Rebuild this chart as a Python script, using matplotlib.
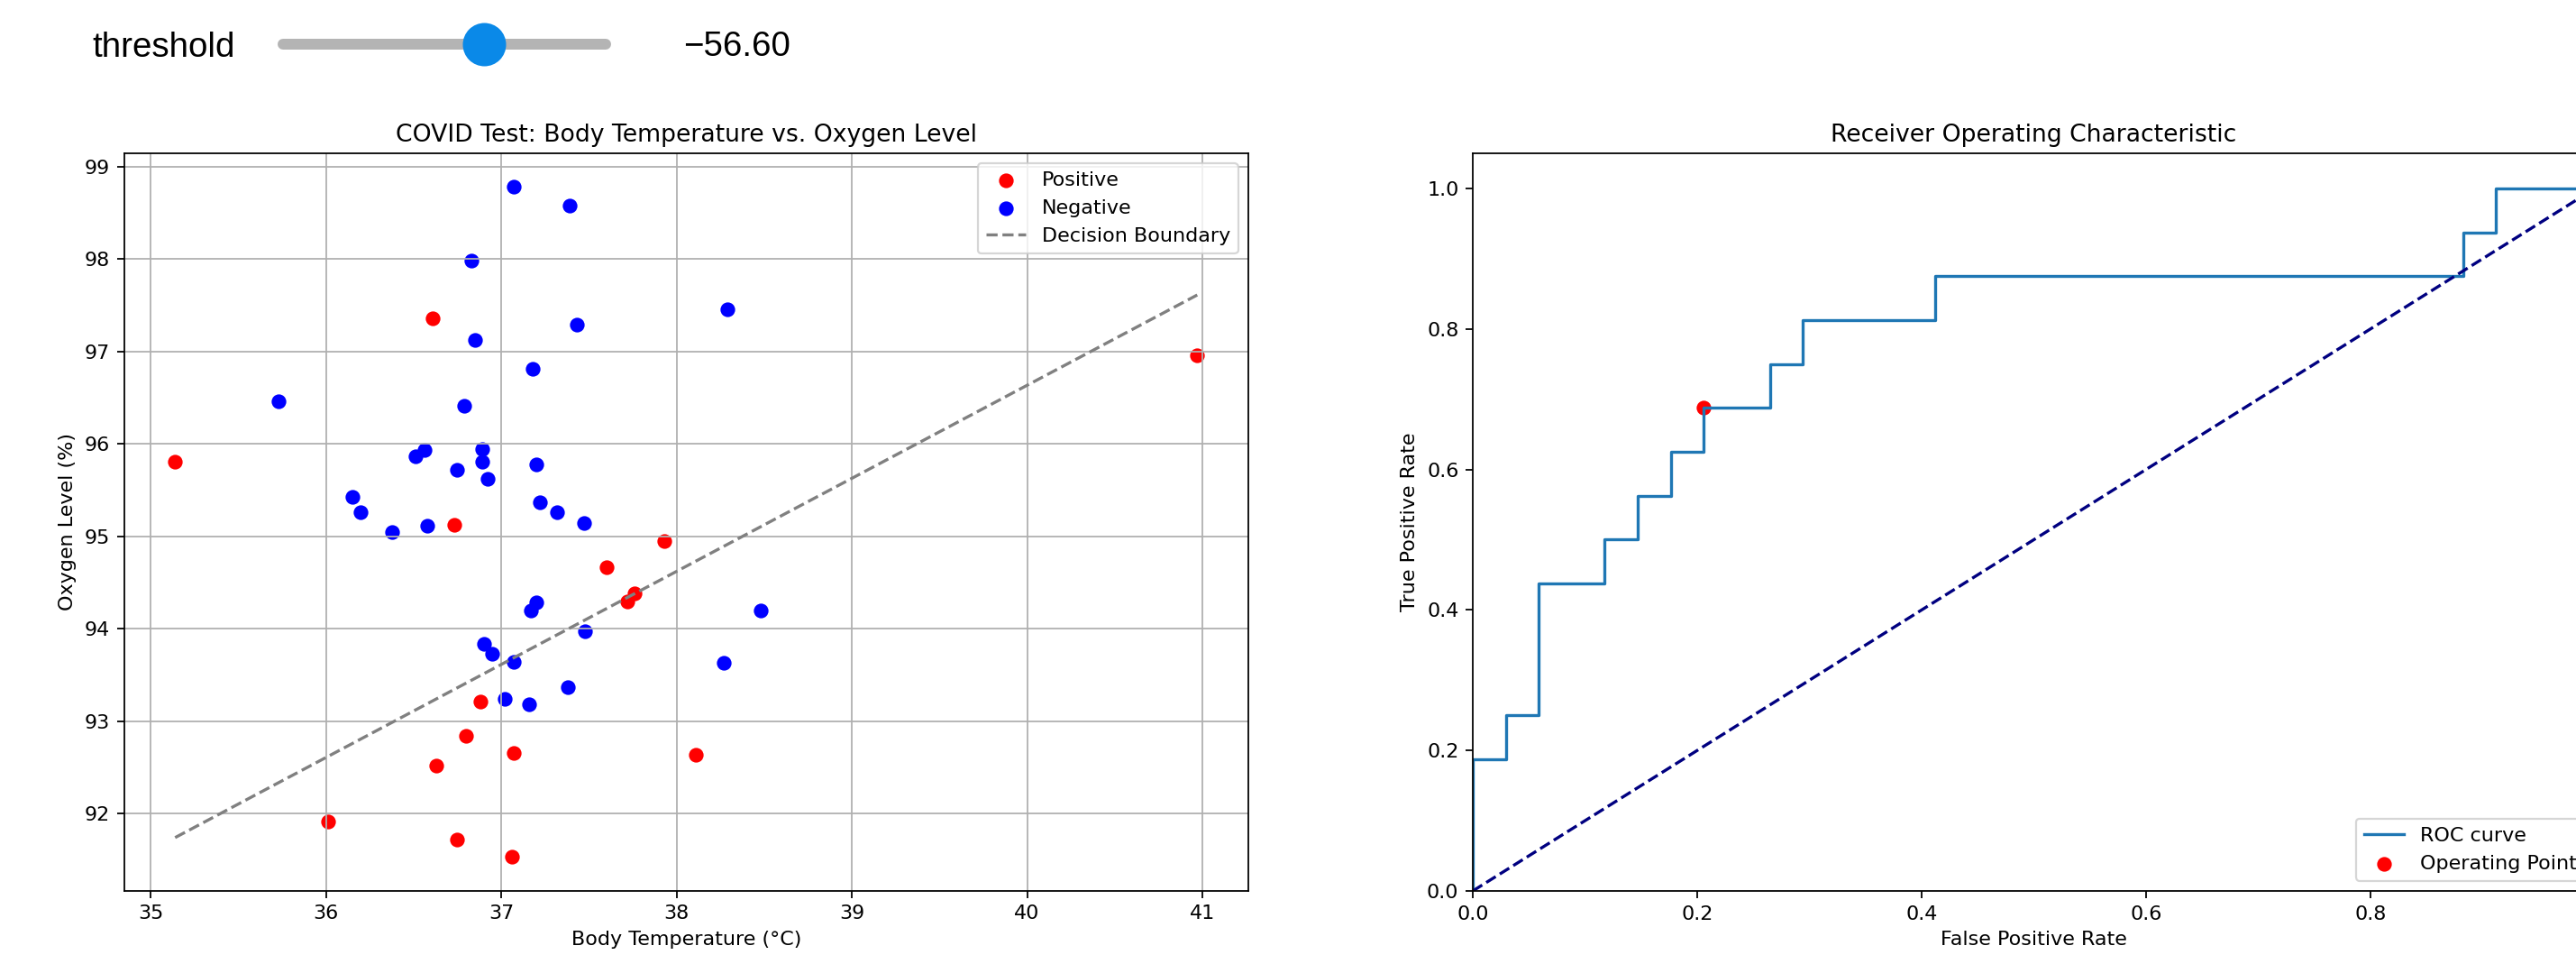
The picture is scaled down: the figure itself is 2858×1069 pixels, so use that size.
import matplotlib
matplotlib.use("Agg")
import matplotlib.pyplot as plt

# covid test points (body temp degC, oxygen %)
pos_temp = [35.14, 36.61, 36.73, 37.93, 37.60, 37.76, 37.72, 36.88, 36.80, 37.07,
            36.63, 38.11, 36.01, 36.75, 37.06, 40.97]
pos_oxy = [95.81, 97.36, 95.12, 94.95, 94.66, 94.38, 94.29, 93.21, 92.84, 92.66,
           92.52, 92.64, 91.91, 91.72, 91.53, 96.96]

neg_temp = [37.07, 37.39, 36.83, 37.43, 38.29, 36.85, 37.18, 35.73, 36.79, 36.56,
            36.51, 36.89, 36.89, 36.75, 36.92, 37.20, 36.15, 36.20, 36.38, 36.58,
            37.22, 37.32, 37.47, 37.20, 37.17, 37.48, 38.48, 38.27, 36.90, 36.95,
            37.07, 37.38, 37.02, 37.16]
neg_oxy = [98.78, 98.58, 97.98, 97.29, 97.45, 97.12, 96.81, 96.46, 96.41, 95.93,
           95.86, 95.94, 95.81, 95.72, 95.62, 95.78, 95.43, 95.26, 95.05, 95.11,
           95.37, 95.26, 95.14, 94.28, 94.20, 93.97, 94.20, 93.63, 93.84, 93.73,
           93.64, 93.37, 93.24, 93.18]

# decision boundary end points
boundary_temp = [35.14, 40.97]
boundary_oxy = [91.74, 97.61]

# roc curve (16 positives, 34 negatives)
fpr = [0, 0, 1/34, 1/34, 2/34, 2/34, 4/34, 4/34, 5/34, 5/34, 6/34, 6/34, 7/34, 7/34,
       9/34, 9/34, 10/34, 10/34, 14/34, 14/34, 30/34, 30/34, 31/34, 31/34, 1]
tpr = [0, 3/16, 3/16, 4/16, 4/16, 7/16, 7/16, 8/16, 8/16, 9/16, 9/16, 10/16, 10/16, 11/16,
       11/16, 12/16, 12/16, 13/16, 13/16, 14/16, 14/16, 15/16, 15/16, 1, 1]
op_fpr = 7/34
op_tpr = 11/16

# slider
threshold = -56.60
threshold_min = -150
threshold_max = 0

W, H, DPI = 2858, 1069, 160


def px(x0, y_top, x1, y_bottom):
    # pixel box -> figure fraction rect
    return [x0 / W, 1 - y_bottom / H, (x1 - x0) / W, (y_bottom - y_top) / H]


fig = plt.figure(figsize=(W / DPI, H / DPI), dpi=DPI)

# left: scatter
ax1 = fig.add_axes(px(137.6, 170, 1385, 987.5))
ax1.scatter(pos_temp, pos_oxy, color="red", s=40, label="Positive")
ax1.scatter(neg_temp, neg_oxy, color="blue", s=40, label="Negative")
ax1.plot(boundary_temp, boundary_oxy, "--", color="gray", label="Decision Boundary")
ax1.set_xlabel("Body Temperature (°C)")
ax1.set_ylabel("Oxygen Level (%)")
ax1.set_title("COVID Test: Body Temperature vs. Oxygen Level")
ax1.legend(loc="upper right")
ax1.grid(True)

# right: roc
ax2 = fig.add_axes(px(1634, 170, 2879, 988))
ax2.plot(fpr, tpr, lw=1.5, label="ROC curve")
ax2.plot([0, 1], [0, 1], color="navy", lw=1.5, linestyle="--")
ax2.scatter([op_fpr], [op_tpr], color="red", s=40, label="Operating Point")
ax2.set_xlim([0.0, 1.0])
ax2.set_ylim([0.0, 1.05])
ax2.set_xlabel("False Positive Rate")
ax2.set_ylabel("True Positive Rate")
ax2.set_title("Receiver Operating Characteristic")
ax2.legend(loc="lower right")

# slider widget look-alike on top
axs = fig.add_axes(px(314, 19, 671.5, 79))
axs.set_xlim(threshold_min, threshold_max)
axs.set_ylim(-1, 1)
axs.axis("off")
axs.plot([threshold_min, threshold_max], [0, 0], color="#b4b4b4",
         lw=12 * 72 / DPI, solid_capstyle="round", clip_on=False)
axs.plot([threshold], [0], "o", color="#0a89e8", ms=48 * 72 / DPI,
         mew=0, clip_on=False)
fig.text(102 / W, 1 - 63 / H, "threshold", family="Liberation Sans",
         fontsize=17.3, va="baseline")
fig.text(758 / W, 1 - 62 / H, f"{threshold:.2f}".replace("-", "\u2212"),
         family="Liberation Sans", fontsize=17.3, va="baseline")

fig.savefig("out.png", dpi=DPI)
